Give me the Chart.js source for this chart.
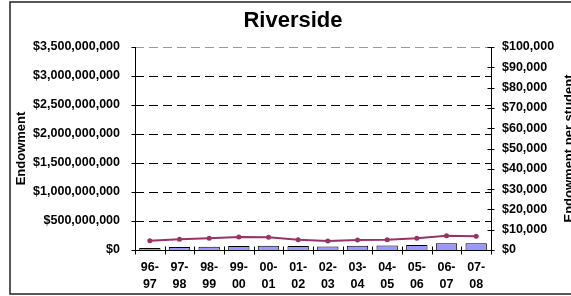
<!DOCTYPE html>
<html><head><meta charset="utf-8">
<script src="https://cdn.jsdelivr.net/npm/chart.js@4/dist/chart.umd.min.js"></script>
<style>html,body{margin:0;padding:0;background:#fff;overflow:hidden}#wrap{width:571px;height:296px;position:relative}</style>
</head><body><div id="wrap"><canvas id="c" width="571" height="296"></canvas></div>
<script>
const categories = [["96-","97"],["97-","98"],["98-","99"],["99-","00"],["00-","01"],["01-","02"],["02-","03"],["03-","04"],["04-","05"],["05-","06"],["06-","07"],["07-","08"]];
const endowment = [35e6, 50e6, 55e6, 70e6, 75e6, 70e6, 62e6, 75e6, 78e6, 88e6, 115e6, 115e6];
const perStudent = [4600, 5300, 5750, 6400, 6250, 5100, 4400, 4900, 5100, 5750, 7050, 6750];
const leftMax = 3500000000, leftStep = 500000000;
const rightMax = 100000, rightStep = 10000;
const titleText = "Riverside";
const leftTitle = "Endowment";
const rightTitle = "Endowment per student";

const FONT = "'Liberation Sans', Arial, sans-serif";
const money = v => '$' + Math.round(v).toLocaleString('en-US');

const decor = {
  id: 'decor',
  beforeDatasetsDraw(chart) {
    const ctx = chart.ctx, a = chart.chartArea;
    const y = chart.scales.y, y1 = chart.scales.y1, x = chart.scales.x;
    ctx.save();
    ctx.lineWidth = 1;
    y.ticks.forEach(t => {
      if (t.value === 0) return;
      const py = Math.round(y.getPixelForValue(t.value)) + 0.5;
      ctx.strokeStyle = t.value === leftMax ? '#999' : '#000';
      ctx.setLineDash([9, 5]);
      ctx.beginPath(); ctx.moveTo(a.left, py); ctx.lineTo(a.right, py); ctx.stroke();
    });
    ctx.setLineDash([]);
    ctx.strokeStyle = '#000';
    const L = Math.round(a.left) + 0.5, R = Math.round(a.right) + 0.5, B = Math.round(a.bottom) + 0.5;
    ctx.beginPath();
    ctx.moveTo(L, a.top); ctx.lineTo(L, B);
    ctx.moveTo(R, a.top); ctx.lineTo(R, B);
    ctx.moveTo(L, B); ctx.lineTo(R, B);
    ctx.stroke();
    ctx.beginPath();
    y.ticks.forEach(t => {
      const py = Math.round(y.getPixelForValue(t.value)) + 0.5;
      ctx.moveTo(L - 4, py); ctx.lineTo(L, py);
    });
    y1.ticks.forEach(t => {
      const py = Math.round(y1.getPixelForValue(t.value)) + 0.5;
      ctx.moveTo(R - 4, py); ctx.lineTo(R + 3, py);
    });
    for (let i = 0; i <= categories.length; i++) {
      const px = Math.round(x.getPixelForValue(i - 0.5)) + 0.5;
      ctx.moveTo(px, B - 4); ctx.lineTo(px, B + 4);
    }
    ctx.stroke();
    ctx.restore();
  },
  afterDraw(chart) {
    const ctx = chart.ctx, a = chart.chartArea;
    ctx.save();
    ctx.fillStyle = '#000';
    ctx.textAlign = 'center'; ctx.textBaseline = 'middle';
    ctx.font = 'bold 22px ' + FONT;
    ctx.fillText(titleText, 293, 21);
    ctx.font = 'bold 13px ' + FONT;
    const cy = (a.top + a.bottom) / 2;
    ctx.save(); ctx.translate(21, cy); ctx.rotate(-Math.PI / 2); ctx.fillText(leftTitle, 0, 0); ctx.restore();
    ctx.save(); ctx.translate(569, cy); ctx.rotate(-Math.PI / 2); ctx.fillText(rightTitle, 0, 0); ctx.restore();
    ctx.strokeStyle = '#222'; ctx.lineWidth = 1.5;
    ctx.strokeRect(10, 2, 580, 292);
    ctx.restore();
  }
};

new Chart(document.getElementById('c'), {
  data: {
    labels: categories,
    datasets: [
      { type: 'line', data: perStudent, yAxisID: 'y1', order: 0,
        borderColor: '#993366', backgroundColor: '#993366', borderWidth: 2,
        pointRadius: 2.5, pointHoverRadius: 2.5, pointBackgroundColor: '#993366', pointBorderWidth: 0, tension: 0 },
      { type: 'bar', data: endowment, yAxisID: 'y', order: 1,
        backgroundColor: '#9999FF', borderColor: '#000', borderWidth: 1,
        barPercentage: 0.72, categoryPercentage: 1 }
    ]
  },
  options: {
    responsive: false, animation: false, devicePixelRatio: 1,
    layout: { padding: { top: 47, left: 0, right: 0, bottom: 0 } },
    plugins: { legend: { display: false }, title: { display: false }, tooltip: { enabled: false } },
    scales: {
      x: {
        type: 'category', offset: true,
        grid: { display: false, drawTicks: false }, border: { display: false },
        ticks: { color: '#000', font: { family: FONT, size: 12.5, weight: 'bold', lineHeight: '17px' }, padding: 9, maxRotation: 0, autoSkip: false },
        afterFit: s => { s.height = 46; }
      },
      y: {
        position: 'left', min: 0, max: leftMax,
        grid: { display: false, drawTicks: false }, border: { display: false },
        ticks: { stepSize: leftStep, color: '#000', padding: 15, font: { family: FONT, size: 12.5, weight: 'bold' }, callback: v => money(v) },
        afterFit: s => { s.width = 135; }
      },
      y1: {
        position: 'right', min: 0, max: rightMax,
        grid: { display: false, drawTicks: false }, border: { display: false },
        ticks: { stepSize: rightStep, color: '#000', padding: 11, font: { family: FONT, size: 12.5, weight: 'bold' }, callback: v => money(v) },
        afterFit: s => { s.width = 80; }
      }
    }
  },
  plugins: [decor]
});
</script>
</body></html>
